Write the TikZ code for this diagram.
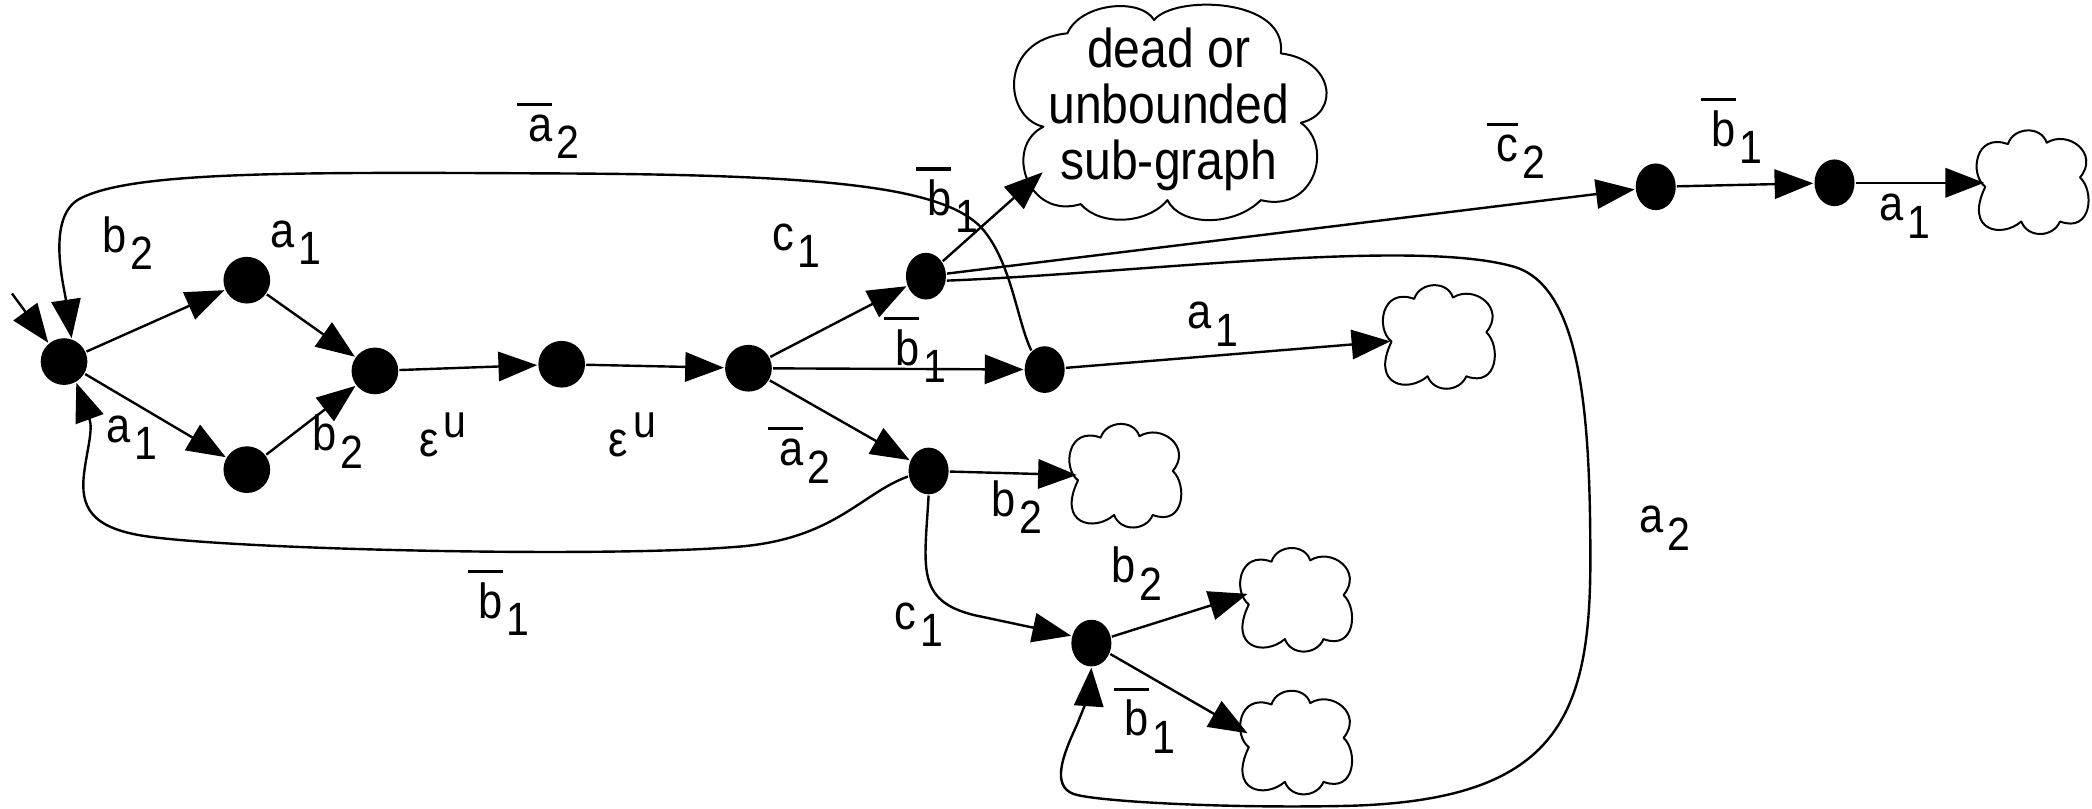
\documentclass[tikz,border=0pt]{standalone}
\usepackage{fontspec}
\usepackage{graphicx}
\setmainfont{Liberation Sans}[FakeStretch=0.88]
\usetikzlibrary{arrows.meta,shapes.geometric}

% letter with a lowered index of nearly the same size
\newcommand\lsub[2]{#1\kern3pt\raisebox{-13pt}{\fontsize{35}{35}\selectfont #2}}
% overbar that starts a little left of the letter
\newcommand\ovl[1]{\setbox0=\hbox{#1}\leavevmode\rlap{\kern-0.45\wd0\rule[\dimexpr\ht0+7pt\relax]{1.45\wd0}{2.4pt}}\box0}
% epsilon with raised u
\newcommand\epsu{ε\kern4pt\raisebox{14pt}{\fontsize{35}{35}\selectfont u}}

% outline of a small cloud around the centre of node #1
\newcommand\puffcloud[1]{%
  \draw[cloudline, shift={(#1.center)}]
    (-34,3) .. controls (-46,-6) and (-42,-38) .. (-17,-29)
    .. controls (-13,-42) and (8,-43) .. (12,-30)
    .. controls (28,-40) and (52,-22) .. (37,-4)
    .. controls (48,6) and (46,38) .. (22,29)
    .. controls (17,41) and (-2,42) .. (-7,29)
    .. controls (-22,42) and (-50,36) .. cycle;}

\tikzset{
  statedot/.style={ellipse, fill=black, draw=none, inner sep=0pt, minimum width=35pt, minimum height=35pt},
  narrowdot/.style={statedot, minimum width=30pt, minimum height=35pt},
  cloudbox/.style={rectangle, draw=none, inner sep=0pt, minimum width=68pt, minimum height=70pt},
  cloudline/.style={line width=1.5pt, line join=round},
  lbl/.style={inner sep=0pt},
  conn/.style={->, line width=1.8pt},
}

\begin{document}
\begin{tikzpicture}[x=1pt, y=-1pt, >={Triangle[length=29pt,width=22pt]},
    line width=1.8pt, font=\fontsize{37}{41}\selectfont]
\useasboundingbox (0,0) rectangle (1568,606);

% states
\node[statedot]  (q0)  at (48,271)  {};
\node[statedot]  (qb)  at (185,210) {};
\node[statedot]  (qa)  at (185,352) {};
\node[statedot]  (qj)  at (281,278) {};
\node[statedot]  (qe)  at (421,273) {};
\node[statedot]  (qc)  at (561,276) {};
\node[narrowdot] (qt)  at (694,207) {};
\node[narrowdot] (qm)  at (783,277) {};
\node[narrowdot] (qd)  at (696,353) {};
\node[narrowdot] (qs)  at (818,482) {};
\node[narrowdot] (qr1) at (1241,140) {};
\node[narrowdot] (qr2) at (1375,137) {};

% the large sub-graph cloud with its text
\node[ellipse, draw=none, inner sep=0pt, minimum width=236pt, minimum height=150pt,
      font=\fontsize{41}{41}\selectfont] (big) at (876,83)
  {\raisebox{-14pt}{\makebox[0pt]{\smash{\begin{tabular}{@{}c@{}}dead or\\unbounded\\sub-graph\end{tabular}}}}};
\draw[cloudline, shift={(big.center)}]
  (-94,12) .. controls (-124,5) and (-128,-53) .. (-76,-58)
  .. controls (-66,-81) and (-21,-85) .. (-11,-68)
  .. controls (4,-87) and (89,-85) .. (84,-43)
  .. controls (124,-38) and (129,2) .. (99,9)
  .. controls (124,27) and (109,77) .. (69,67)
  .. controls (49,87) and (9,87) .. (-1,67)
  .. controls (-16,85) and (-51,87) .. (-66,70)
  .. controls (-106,82) and (-124,27) .. cycle;

% small sub-graph clouds
\node[cloudbox] (cR)  at (1522,137) {};
\node[cloudbox] (cM)  at (1077,253) {};
\node[cloudbox] (cD)  at (842,357)  {};
\node[cloudbox] (cL1) at (970,450)  {};
\node[cloudbox] (cL2) at (970,557)  {};
\puffcloud{cR}
\puffcloud{cM}
\puffcloud{cD}
\puffcloud{cL1}
\puffcloud{cL2}

% initial arrow
\coordinate (init) at (9,220);
\draw[conn] (init) -- (q0.130);

% straight transitions
\draw[conn] (q0) -- (qb);
\draw[conn] (q0) -- (qa);
\draw[conn] (qb) -- (qj);
\draw[conn] (qa) -- (qj);
\draw[conn] (qj) -- (qe);
\draw[conn] (qe) -- (qc);
\draw[conn] (qc) -- (qt);
\draw[conn] (qc) -- (qm);
\draw[conn] (qc) -- (qd);
\draw[conn] (qt) -- (big.206);
\draw[conn] (qt) -- (qr1);
\draw[conn] (qr1) -- (qr2);
\draw[conn] (qr2) -- (cR);
\draw[conn] (qm) -- (cM);
\draw[conn] (qd) -- (cD);
\draw[conn] (qs) -- (cL1.172);
\draw[conn] (qs) -- (cL2.168);

% curved transitions
\draw[conn] (qm.125) .. controls (762,240) and (758,195) .. (735,170)
  .. controls (705,140) and (620,131) .. (420,130)
  .. controls (220,129) and (95,128) .. (58,150)
  .. controls (35,165) and (48,215) .. (q0.72);
\draw[conn] (qd.195) .. controls (645,370) and (625,405) .. (550,410)
  .. controls (450,418) and (180,412) .. (110,402)
  .. controls (68,396) and (60,380) .. (63,355)
  .. controls (65,338) and (70,322) .. (q0.300);
\draw[conn] (qd.-90) .. controls (693,425) and (686,450) .. (730,461) -- (qs.160);
\draw[conn] (qt.-12) .. controls (850,205) and (1060,178) .. (1135,200)
  .. controls (1185,215) and (1192,310) .. (1192,420)
  .. controls (1192,540) and (1165,600) .. (1010,604)
  .. controls (920,606) and (830,601) .. (808,596)
  .. controls (788,592) and (795,570) .. (805,548)
  .. controls (812,533) and (817,515) .. (qs.-90);

% transition labels
\node[lbl] (lbA)  at (96,182)   {\lsub{b}{2}};
\node[lbl] (laA)  at (99,328)   {\lsub{a}{1}};
\node[lbl] (laB)  at (222,182)  {\lsub{a}{1}};
\node[lbl] (lbB)  at (253,331)  {\lsub{b}{2}};
\node[lbl] (leA)  at (332,326)  {\epsu};
\node[lbl] (leB)  at (474,326)  {\epsu};
\node[lbl] (lcA)  at (597,184)  {\lsub{c}{1}};
\node[lbl] (lbC)  at (690,262)  {\lsub{\ovl{b}}{1}};
\node[lbl] (laC)  at (603,341)  {\lsub{\ovl{a}}{2}};
\node[lbl] (lbD)  at (714,150)  {\lsub{\ovl{b}}{1}};
\node[lbl] (laD)  at (415,98)   {\lsub{\ovl{a}}{2}};
\node[lbl] (lcB)  at (1140,113) {\lsub{\ovl{c}}{2}};
\node[lbl] (lbE)  at (1302,98)  {\lsub{\ovl{b}}{1}};
\node[lbl] (laE)  at (1428,162) {\lsub{a}{1}};
\node[lbl] (laF)  at (909,243)  {\lsub{a}{1}};
\node[lbl] (lbF)  at (762,380)  {\lsub{b}{2}};
\node[lbl] (lbG)  at (378,452)  {\lsub{\ovl{b}}{1}};
\node[lbl] (lcC)  at (689,468)  {\lsub{c}{1}};
\node[lbl] (lbH)  at (852,430)  {\lsub{b}{2}};
\node[lbl] (lbI)  at (862,540)  {\lsub{\ovl{b}}{1}};
\node[lbl] (laG)  at (1248,396) {\lsub{a}{2}};
\end{tikzpicture}
\end{document}
